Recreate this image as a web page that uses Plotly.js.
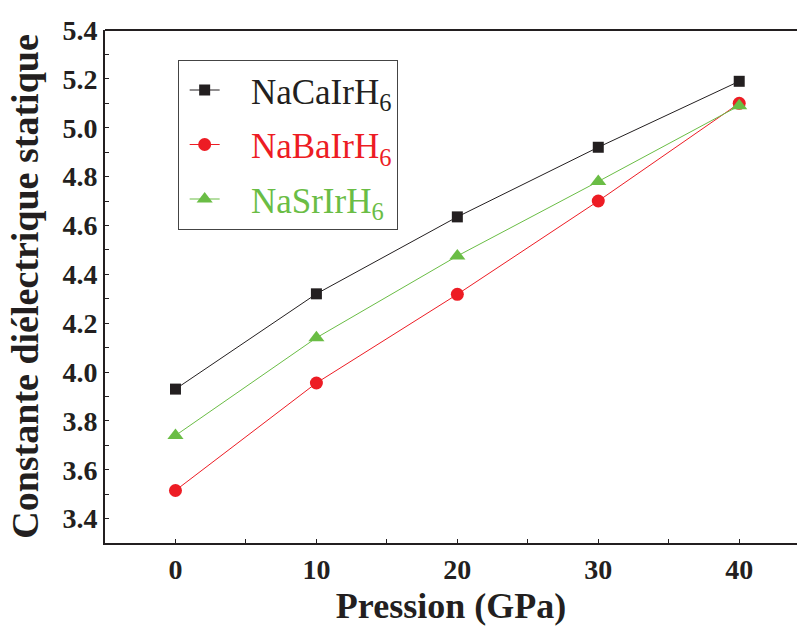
<!DOCTYPE html>
<html>
<head>
<meta charset="utf-8">
<script src="https://cdn.plot.ly/plotly-3.0.1.min.js"></script>
<style>html,body{margin:0;padding:0;overflow:hidden;background:#fff;}</style>
</head>
<body>
<div id="chart" style="width:797px;height:626px;"></div>
<script>
var pressure = [0, 10, 20, 30, 40];
var naCa = [3.93, 4.32, 4.635, 4.92, 5.19];
var naBa = [3.515, 3.955, 4.318, 4.70, 5.10];
var naSr = [3.74, 4.14, 4.475, 4.78, 5.09];
var seriesNames = ['NaCaIrH<sub>6</sub>', 'NaBaIrH<sub>6</sub>', 'NaSrIrH<sub>6</sub>'];
var colors = ['#231f20', '#ed1c24', '#6abd45'];
var xTickVals = [0, 10, 20, 30, 40];
var xTickText = ['0', '10', '20', '30', '40'];
var yTickVals = [3.4, 3.6, 3.8, 4.0, 4.2, 4.4, 4.6, 4.8, 5.0, 5.2, 5.4];
var yTickText = ['3.4', '3.6', '3.8', '4.0', '4.2', '4.4', '4.6', '4.8', '5.0', '5.2', '5.4'];
var FONT = 'Liberation Serif';

function tr(y, i, sym, size) {
  return {
    x: pressure, y: y, type: 'scatter', mode: 'lines+markers',
    name: '<span style="color:' + colors[i] + '">\u00a0\u00a0\u00a0' + seriesNames[i] + '</span>',
    legendgroup: 'g' + i,
    line: {color: colors[i], width: 1},
    marker: {symbol: sym, size: size, color: colors[i]}
  };
}
var data = [tr(naCa, 0, 'square', 11), tr(naBa, 1, 'circle', 13), tr(naSr, 2, 'triangle-up', 14)];
function bold(a) { return a.map(function (s) { return '<b>' + s + '</b>'; }); }

var layout = {
  width: 797, height: 626,
  margin: {l: 105, r: 0, t: 30, b: 83},
  paper_bgcolor: '#fff', plot_bgcolor: '#fff',
  font: {family: FONT, color: '#231f20'},
  showlegend: true,
  legend: {
    x: 0.105, y: 0.942, xanchor: 'left', yanchor: 'top',
    bordercolor: '#444', borderwidth: 1, bgcolor: '#fff',
    font: {size: 35, family: FONT},
    tracegroupgap: 6, indentation: 6
  },
  xaxis: {
    range: [-5, 44.1], tickvals: xTickVals, ticktext: bold(xTickText),
    ticks: 'inside', ticklen: 4, tickwidth: 1, tickcolor: '#231f20',
    minor: {dtick: 5, ticks: 'inside', ticklen: 4, tickcolor: '#231f20'},
    showline: true, linecolor: '#231f20', linewidth: 2, mirror: false,
    showgrid: false, zeroline: false,
    tickfont: {size: 28, family: FONT},
    title: {text: '<b>Pression (GPa)</b>', font: {size: 36, family: FONT}, standoff: 20}
  },
  yaxis: {
    range: [3.3, 5.4], tickvals: yTickVals, ticktext: bold(yTickText),
    ticks: 'inside', ticklen: 4, tickwidth: 1, tickcolor: '#231f20',
    minor: {dtick: 0.1, ticks: 'inside', ticklen: 4, tickcolor: '#231f20'},
    showline: true, linecolor: '#231f20', linewidth: 2,
    showgrid: false, zeroline: false,
    tickfont: {size: 28, family: FONT},
    title: {text: '<b>Constante diélectrique statique</b>', font: {size: 38, family: FONT}, standoff: 12}
  },
  shapes: [{type: 'line', xref: 'paper', yref: 'paper', x0: 0, x1: 1, y0: 1, y1: 1,
            line: {color: '#231f20', width: 2}}]
};
Plotly.newPlot('chart', data, layout, {displayModeBar: false, staticPlot: true});
</script>
</body>
</html>
